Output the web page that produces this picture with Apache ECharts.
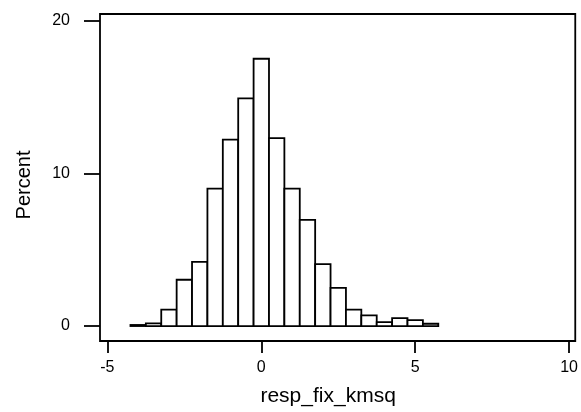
<!DOCTYPE html>
<html>
<head>
    <meta charset="UTF-8">
    <title>resp_fix_kmsq</title>
    <script src="https://cdn.jsdelivr.net/npm/echarts@6/dist/echarts.min.js"></script>
    <style>
        html, body { margin: 0; padding: 0; background: #fff; }
        #chart { width: 581px; height: 412px; }
    </style>
</head>
<body>
    <div id="chart"></div>
    <script>
        // bin centres (width 0.5) and percent heights
        var binWidth = 0.5;
        var binCenters = [-4, -3.5, -3, -2.5, -2, -1.5, -1, -0.5, 0, 0.5,
                          1, 1.5, 2, 2.5, 3, 3.5, 4, 4.5, 5, 5.5];
        var percents = [0.07, 0.17, 1.07, 3.03, 4.2, 9.0, 12.2, 14.9, 17.5, 12.3,
                        9.0, 6.95, 4.05, 2.5, 1.07, 0.7, 0.26, 0.52, 0.39, 0.15];
        var xTicks = [-5, 0, 5, 10];
        var yTicks = [0, 10, 20];

        var bins = binCenters.map(function (c, i) {
            return [c - binWidth / 2, c + binWidth / 2, percents[i]];
        });

        var font = 'Liberation Sans, Arial, sans-serif';

        var option = {
            animation: false,
            grid: {
                left: 100, right: 2, top: 14, bottom: 71,
                show: true,
                borderColor: '#000',
                borderWidth: 1.8,
                backgroundColor: 'transparent'
            },
            xAxis: {
                type: 'value',
                min: -5.24,
                max: 10.2,
                name: 'resp_fix_kmsq',
                nameLocation: 'middle',
                nameGap: 45,
                nameTextStyle: { color: '#000', fontSize: 21, fontFamily: font, padding: [0, 19, 0, 0] },
                axisLine: { show: false, onZero: false },
                axisTick: {
                    show: true, length: 12, customValues: xTicks,
                    lineStyle: { color: '#000', width: 1.8 }
                },
                axisLabel: {
                    customValues: xTicks, margin: 19,
                    color: '#000', fontSize: 16, fontFamily: font
                },
                splitLine: { show: false }
            },
            yAxis: {
                type: 'value',
                min: -0.98,
                max: 20.43,
                name: 'Percent',
                nameLocation: 'middle',
                nameGap: 66,
                nameTextStyle: { color: '#000', fontSize: 20, fontFamily: font, padding: [0, 15, 0, 0] },
                axisLine: { show: false, onZero: false },
                axisTick: {
                    show: true, length: 16, customValues: yTicks,
                    lineStyle: { color: '#000', width: 1.8 }
                },
                axisLabel: {
                    customValues: yTicks, margin: 30,
                    color: '#000', fontSize: 16, fontFamily: font
                },
                splitLine: { show: false }
            },
            series: [{
                type: 'custom',
                data: bins,
                renderItem: function (params, api) {
                    var p0 = api.coord([api.value(0), 0]);
                    var p1 = api.coord([api.value(1), api.value(2)]);
                    return {
                        type: 'rect',
                        shape: { x: p0[0], y: p1[1], width: p1[0] - p0[0], height: p0[1] - p1[1] },
                        style: { fill: '#fff', stroke: '#000', lineWidth: 1.8 }
                    };
                }
            }]
        };

        var myChart = echarts.init(document.getElementById('chart'));
        myChart.setOption(option);
    </script>
</body>
</html>
